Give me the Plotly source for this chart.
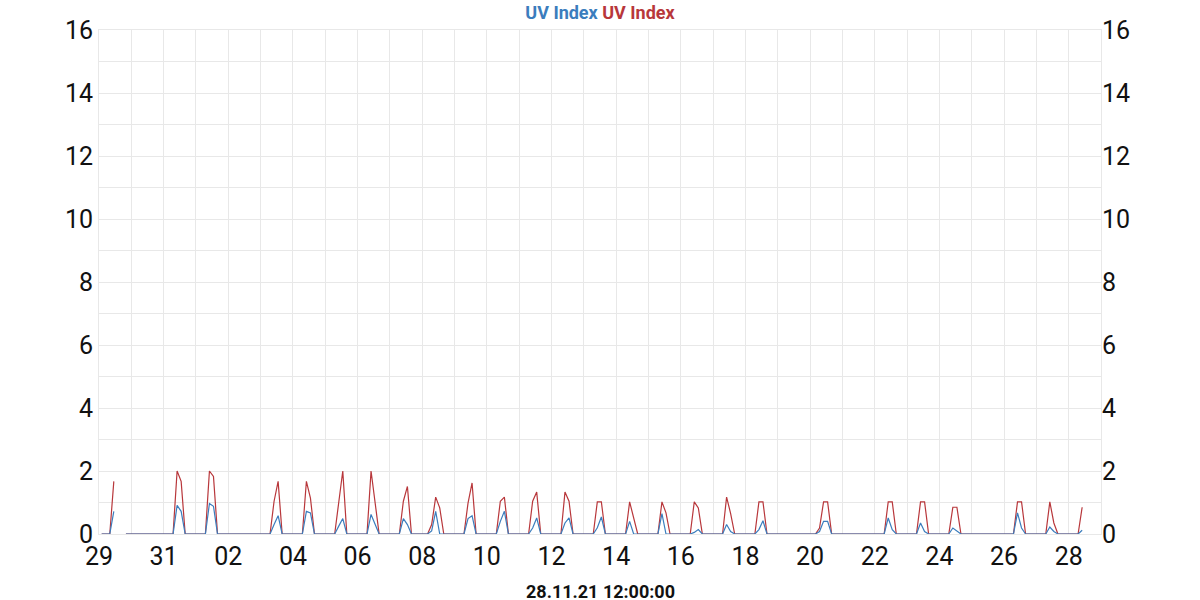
from datetime import datetime, timedelta

import plotly.graph_objects as go

# one entry per day, 29 Oct .. 28 Nov 2021
# slots are the 3-hourly samples around midday (07/10/13 local, 08/11/14 before DST end)
RED_MORNING = [0, 0, 0, 0, 0, 0, 0, 0, 0, 0, 0.3, 0, 0, 0, 0, 0,
               0, 0, 0, 0, 0, 0, 0.19, 0, 0, 0, 0, 0, 0, 0, 0]
RED_MIDDAY = [1.67, 0, 2.0, 2.0, 0, 1.04, 1.67, 1.0, 2.0, 1.04, 1.17, 0.98, 1.04, 1.04, 1.33, 1.02,
              1.02, 1.02, 1.02, 1.17, 1.02, 0, 1.02, 0, 1.02, 1.02, 0.85, 0, 1.02, 1.02, 0.85]
RED_AFTERNOON = [None, 0, 1.67, 1.83, 0, 1.67, 1.14, 2.0, 1.0, 1.51, 0.83, 1.62, 1.17, 1.33, 1.04, 1.02,
                 0.5, 0.67, 0.83, 0.65, 1.02, 0, 1.02, 0, 1.02, 1.02, 0.85, 0, 1.02, 0.35, None]

BLUE_MORNING = [0, 0, 0, 0, 0, 0, 0, 0, 0, 0, 0.1, 0, 0, 0, 0, 0,
                0, 0, 0, 0, 0, 0, 0.08, 0, 0, 0, 0, 0, 0, 0, 0]
BLUE_MIDDAY = [0.72, 0, 0.91, 0.97, 0, 0.3, 0.72, 0.25, 0.62, 0.49, 0.72, 0.49, 0.4, 0.19, 0.35, 0.2,
               0.4, 0.65, 0.05, 0.3, 0.14, 0, 0.4, 0, 0.51, 0.35, 0.19, 0, 0.67, 0.22, 0.12]
BLUE_AFTERNOON = [None, 0, 0.72, 0.88, 0, 0.58, 0.67, 0.49, 0.3, 0.3, 0.0, 0.58, 0.72, 0.51, 0.51, 0.54,
                  0.0, 0.0, 0.14, 0.08, 0.42, 0, 0.4, 0, 0.14, 0.08, 0.08, 0, 0.19, 0.08, None]

MISSING = [(0, 4), (0, 5)]  # logger outage on 29 Oct afternoon
LAST_SAMPLE = (30, 3)

START_UTC = datetime(2021, 10, 29)
DST_END_UTC = datetime(2021, 10, 31, 1)

BLUE = "#3b7dbd"
RED = "#b8373b"
GRID = "#e8e8e8"


def build_series(morning, midday, afternoon):
    xs, ys = [], []
    for day in range(len(midday)):
        for slot in range(8):
            if (day, slot) > LAST_SAMPLE:
                break
            utc = START_UTC + timedelta(days=day, hours=3 * slot)
            local = utc + timedelta(hours=2 if utc < DST_END_UTC else 1)
            val = {2: morning[day], 3: midday[day], 4: afternoon[day]}.get(slot, 0)
            if (day, slot) in MISSING:
                val = None
            xs.append(local)
            ys.append(val)
    return xs, ys


red_x, red_y = build_series(RED_MORNING, RED_MIDDAY, RED_AFTERNOON)
blue_x, blue_y = build_series(BLUE_MORNING, BLUE_MIDDAY, BLUE_AFTERNOON)

fig = go.Figure()
fig.add_trace(go.Scatter(x=red_x, y=red_y, mode="lines", name="UV Index",
                         line=dict(color=RED, width=1.2), yaxis="y"))
fig.add_trace(go.Scatter(x=blue_x, y=blue_y, mode="lines", name="UV Index",
                         line=dict(color=BLUE, width=1.2), yaxis="y2"))

day_ms = 86400000
fig.update_layout(
    width=1200, height=600,
    margin=dict(l=99, r=99, t=30, b=66),
    plot_bgcolor="white", paper_bgcolor="white",
    font=dict(family="Roboto", size=25, color="#111111"),
    showlegend=False,
    title=dict(
        text=f"<b><span style='color:{BLUE}'>UV Index</span> "
             f"<span style='color:{RED}'>UV Index</span></b>",
        x=0.5, xanchor="center", yref="container", y=1 - 13 / 600, yanchor="middle",
        font=dict(family="Roboto", size=18),
    ),
    xaxis=dict(
        type="date", range=["2021-10-29", "2021-11-29"],
        tick0="2021-10-29", dtick=2 * day_ms, tickformat="%d",
        showgrid=True, gridcolor=GRID, zeroline=False, ticks="",
        minor=dict(dtick=day_ms, showgrid=True, gridcolor=GRID),
        showline=True, linecolor=GRID, mirror=True,
    ),
    yaxis=dict(
        range=[0, 16], dtick=2, showgrid=True, gridcolor=GRID, zeroline=False, ticks="",
        minor=dict(dtick=1, showgrid=True, gridcolor=GRID),
        showline=True, linecolor=GRID, mirror=True,
    ),
    yaxis2=dict(
        overlaying="y", side="right", matches="y", range=[0, 16], dtick=2,
        showgrid=False, zeroline=False, ticks="",
    ),
    annotations=[dict(
        text="<b>28.11.21 12:00:00</b>", showarrow=False,
        xref="paper", x=0.5, xanchor="center",
        yref="paper", y=-(592 - 534.3) / 504.3, yanchor="middle",
        font=dict(family="Roboto", size=18, color="#111111"),
    )],
)

# the page's default body margin would push the 1200x600 figure off-window
fig.write_html("out.html", config={"displayModeBar": False},
               post_script="document.body.style.margin = '0';")
